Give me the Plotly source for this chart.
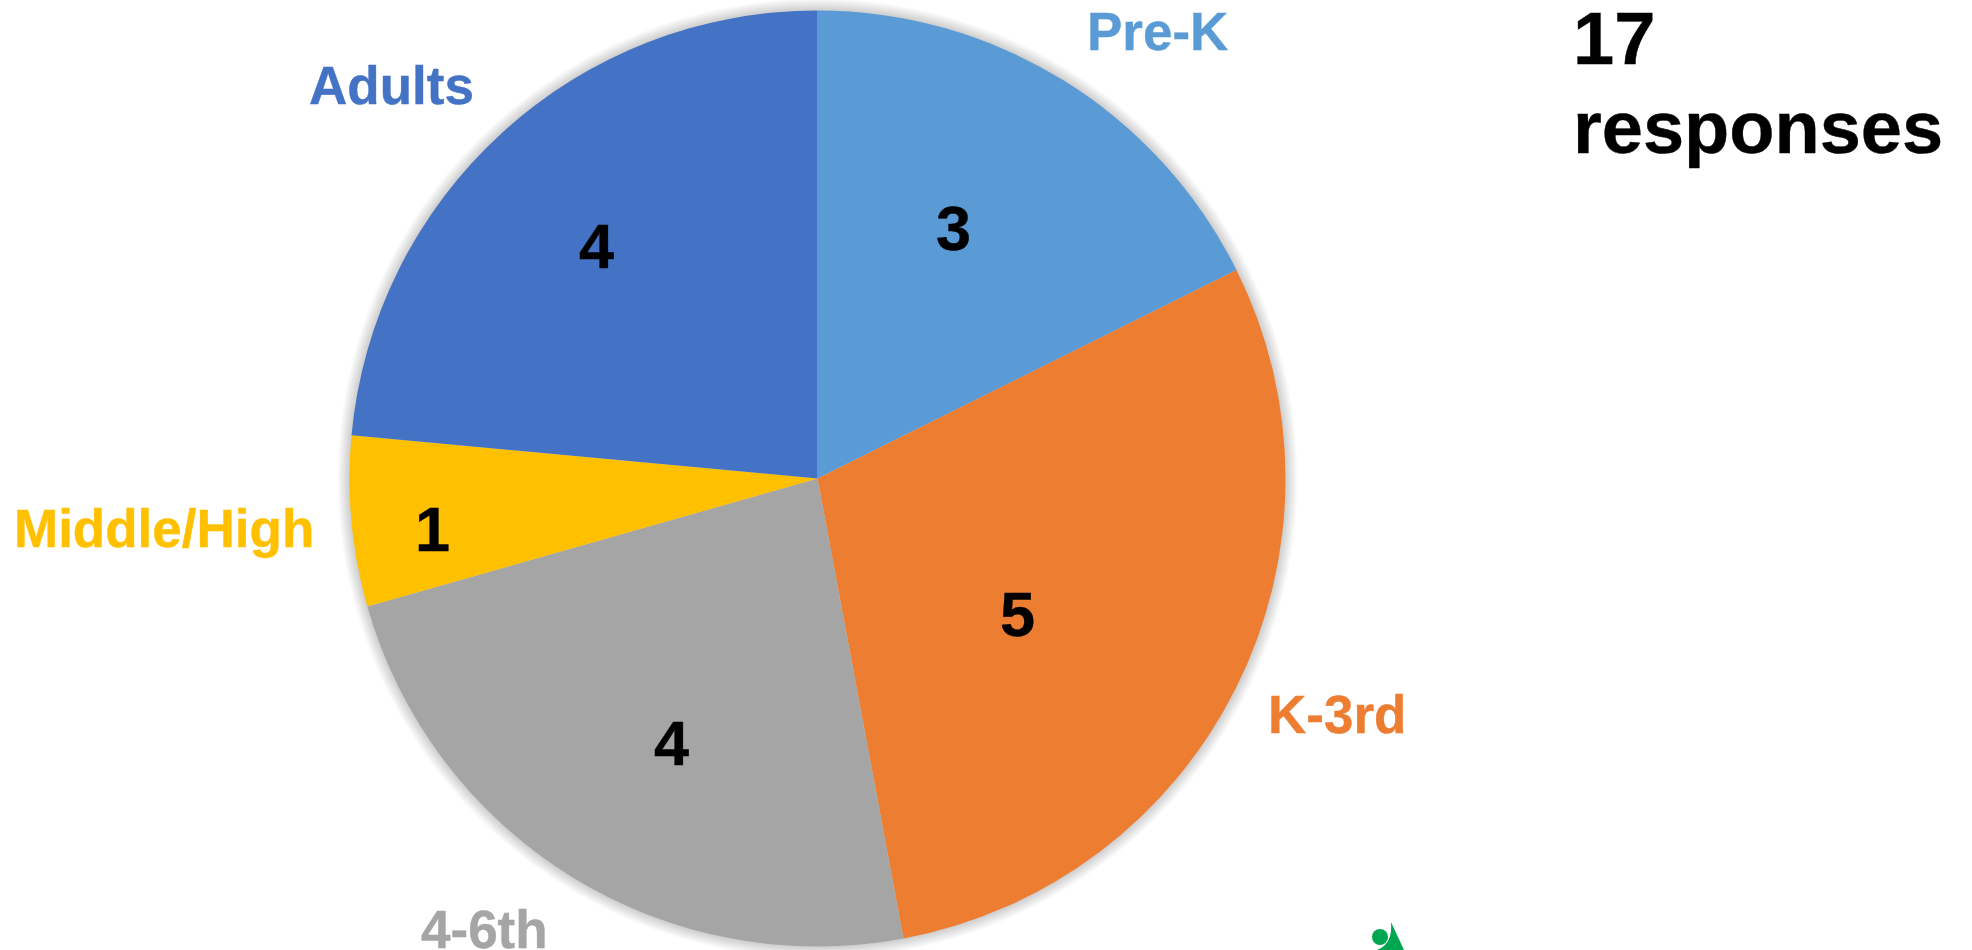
import plotly.graph_objects as go

categories = ["Pre-K", "K-3rd", "4-6th", "Middle/High", "Adults"]
values = [3, 5, 4, 1, 4]
colors = ["#5B9BD5", "#ED7D31", "#A5A5A5", "#FFC000", "#4472C4"]
total_line = "17"
total_word = "responses"

W, H = 1972, 950
CX, CY, R = 817.5, 478.5, 468
# pixel centres for the outer labels and the value labels
label_pos = [(1157, 31), (1337, 714), (484, 929), (164, 528), (391, 85)]
value_pos = [(953, 228), (1017, 614), (671, 743), (432, 529), (596, 246)]

def px(x):
    return x / W

def py(y):
    return 1 - y / H

fig = go.Figure(go.Pie(
    labels=categories, values=values, sort=False, direction="clockwise", rotation=0,
    marker=dict(colors=colors, line=dict(width=0)),
    textinfo="none", hoverinfo="label+value", showlegend=False,
    domain=dict(x=[px(CX - R), px(CX + R)], y=[py(CY + R), py(CY - R)]),
))

shapes = []
# soft drop shadow under the pie
for i in range(1, 13):
    r = R + i
    shapes.append(dict(type="circle", xref="paper", yref="paper", layer="below",
                       x0=px(CX - r), x1=px(CX + r), y0=py(CY + r), y1=py(CY - r),
                       line=dict(width=0), fillcolor="rgba(0,0,0,0.016)"))
# clipped green logo at the bottom
shapes.append(dict(type="circle", xref="paper", yref="paper",
                   x0=px(1372), x1=px(1388), y0=py(945), y1=py(929),
                   line=dict(width=0), fillcolor="#00A651"))
logo = f"M {px(1391)} {py(922)} L {px(1404)} {py(950)} L {px(1377)} {py(950)} Q {px(1393)} {py(944)} {px(1391)} {py(922)} Z"
shapes.append(dict(type="path", xref="paper", yref="paper", path=logo,
                   line=dict(width=0), fillcolor="#00A651"))

ann = []
FONT = "Liberation Sans, Arial, sans-serif"
for name, col, (x, y) in zip(categories, colors, label_pos):
    ann.append(dict(text=f"<b>{name}</b>", x=px(x), y=py(y), xref="paper", yref="paper",
                    showarrow=False, xanchor="center", yanchor="middle",
                    font=dict(family=FONT, size=53, color=col)))
for v, (x, y) in zip(values, value_pos):
    ann.append(dict(text=f"<b>{v}</b>", x=px(x), y=py(y), xref="paper", yref="paper",
                    showarrow=False, xanchor="center", yanchor="middle",
                    font=dict(family=FONT, size=63, color="#000000")))
for t, y in [(total_line, 39), (total_word, 127)]:
    ann.append(dict(text=f"<b>{t}</b>", x=px(1571), y=py(y), xref="paper", yref="paper",
                    showarrow=False, xanchor="left", yanchor="middle",
                    font=dict(family=FONT, size=74, color="#000000")))

fig.update_layout(width=W, height=H, margin=dict(l=0, r=0, t=0, b=0),
                  paper_bgcolor="#FFFFFF", plot_bgcolor="#FFFFFF",
                  shapes=shapes, annotations=ann)
fig.write_html("out.html", config=dict(displayModeBar=False),
               post_script="document.body.style.margin='0';document.body.style.overflow='hidden';"
                           "document.querySelectorAll('.annotation-text').forEach(function(t){"
                           "t.style.stroke=t.style.fill;t.style.strokeWidth='0.4px';});")
